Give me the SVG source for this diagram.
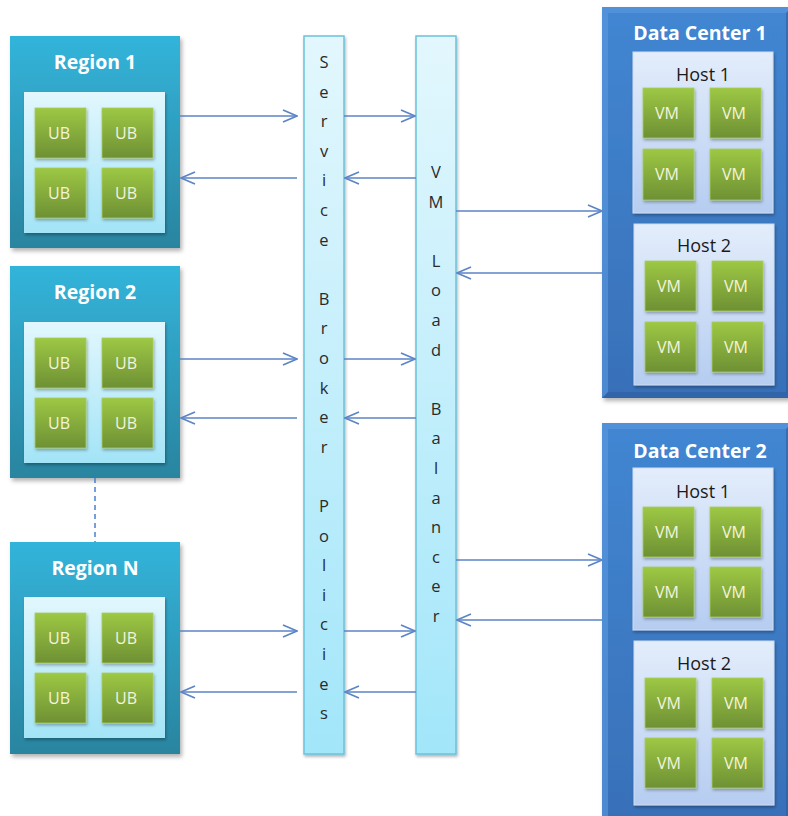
<svg xmlns="http://www.w3.org/2000/svg" width="788" height="816" viewBox="0 0 788 816">
<defs>
  <linearGradient id="gRegion" x1="0" y1="0" x2="0" y2="1">
    <stop offset="0" stop-color="#32b4da"/>
    <stop offset="1" stop-color="#2a849f"/>
  </linearGradient>
  <linearGradient id="gInner" x1="0" y1="0" x2="0" y2="1">
    <stop offset="0" stop-color="#e2f7fd"/>
    <stop offset="1" stop-color="#a3e4f7"/>
  </linearGradient>
  <linearGradient id="gGreen" x1="0" y1="0" x2="0" y2="1">
    <stop offset="0" stop-color="#9dc844"/>
    <stop offset="1" stop-color="#6e9034"/>
  </linearGradient>
  <linearGradient id="gBar" x1="0" y1="0" x2="0" y2="1">
    <stop offset="0" stop-color="#e3f7fd"/>
    <stop offset="1" stop-color="#a2e6fa"/>
  </linearGradient>
  <linearGradient id="gDC" x1="0" y1="0" x2="0" y2="1">
    <stop offset="0" stop-color="#4286d2"/>
    <stop offset="1" stop-color="#3870b8"/>
  </linearGradient>
  <linearGradient id="gHost" x1="0" y1="0" x2="0" y2="1">
    <stop offset="0" stop-color="#e3edfb"/>
    <stop offset="1" stop-color="#b6cdf1"/>
  </linearGradient>
  <filter id="sh" x="-10%" y="-10%" width="130%" height="130%">
    <feDropShadow dx="2" dy="3" stdDeviation="2" flood-color="#000" flood-opacity="0.3"/>
  </filter>
  <filter id="shs" x="-10%" y="-10%" width="130%" height="130%">
    <feDropShadow dx="1" dy="2" stdDeviation="1.5" flood-color="#000" flood-opacity="0.3"/>
  </filter>
  <marker id="ah" viewBox="0 0 16 14" refX="15" refY="7" markerWidth="16" markerHeight="14" orient="auto" markerUnits="userSpaceOnUse">
    <path d="M1,1 L15,7 L1,13" fill="none" stroke="#5b85c6" stroke-width="1.6"/>
  </marker>
  <style>
    .region { fill: url(#gRegion); filter: url(#sh); }
    .inner { fill: url(#gInner); filter: url(#shs); }
    .green { fill: url(#gGreen); stroke: #a8cc60; stroke-width: 0.8; filter: url(#shs); }
    .bar { fill: url(#gBar); stroke: #6ac2db; stroke-width: 1.5; filter: url(#shs); }
    .dc { fill: url(#gDC); filter: url(#sh); }
    .host { fill: url(#gHost); stroke: #cddcf3; stroke-width: 1; filter: url(#shs); }
    .title { font-family: "Open Sans", "Liberation Sans", sans-serif; font-weight: bold; font-size: 19.5px; fill: #ffffff; text-anchor: middle; }
    .hostlbl { font-family: "Open Sans", "Liberation Sans", sans-serif; font-size: 18px; fill: #1a1a1a; text-anchor: middle; }
    .gtxt { font-family: "Open Sans", "Liberation Sans", sans-serif; font-size: 16px; fill: #f4f4dc; text-anchor: middle; }
    .vtxt { font-family: "Open Sans", "Liberation Sans", sans-serif; font-size: 16.5px; fill: #2a2a2a; text-anchor: middle; }
    .conn { stroke: #5b85c6; stroke-width: 1.6; fill: none; }
    .dash { stroke: #4a7fd0; stroke-width: 1.5; stroke-dasharray: 5 4; fill: none; }
  </style>
</defs>
<rect x="0" y="0" width="788" height="816" fill="#ffffff"/>

<!-- Regions -->
<g id="region1">
  <rect class="region" x="10" y="36" width="170" height="212"/>
  <text class="title" x="95" y="69">Region 1</text>
  <rect class="inner" x="24" y="92" width="141" height="141"/>
  <rect class="green" x="35" y="108" width="51" height="50"/><text class="gtxt" x="59" y="139">UB</text>
  <rect class="green" x="102" y="108" width="51" height="50"/><text class="gtxt" x="126" y="139">UB</text>
  <rect class="green" x="35" y="168" width="51" height="50"/><text class="gtxt" x="59" y="199">UB</text>
  <rect class="green" x="102" y="168" width="51" height="50"/><text class="gtxt" x="126" y="199">UB</text>
</g>
<g id="region2">
  <rect class="region" x="10" y="266" width="170" height="212"/>
  <text class="title" x="95" y="299">Region 2</text>
  <rect class="inner" x="24" y="322" width="141" height="141"/>
  <rect class="green" x="35" y="338" width="51" height="50"/><text class="gtxt" x="59" y="369">UB</text>
  <rect class="green" x="102" y="338" width="51" height="50"/><text class="gtxt" x="126" y="369">UB</text>
  <rect class="green" x="35" y="398" width="51" height="50"/><text class="gtxt" x="59" y="429">UB</text>
  <rect class="green" x="102" y="398" width="51" height="50"/><text class="gtxt" x="126" y="429">UB</text>
</g>
<g id="regionN">
  <rect class="region" x="10" y="542" width="170" height="212"/>
  <text class="title" x="95" y="575">Region N</text>
  <rect class="inner" x="24" y="597" width="141" height="141"/>
  <rect class="green" x="35" y="613" width="51" height="50"/><text class="gtxt" x="59" y="644">UB</text>
  <rect class="green" x="102" y="613" width="51" height="50"/><text class="gtxt" x="126" y="644">UB</text>
  <rect class="green" x="35" y="673" width="51" height="50"/><text class="gtxt" x="59" y="704">UB</text>
  <rect class="green" x="102" y="673" width="51" height="50"/><text class="gtxt" x="126" y="704">UB</text>
</g>

<!-- Service Broker Policies bar -->
<g id="service-broker">
  <rect class="bar" x="304" y="36" width="40" height="718"/>
  <text class="vtxt" x="324" y="68">S</text>
  <text class="vtxt" x="324" y="97.6">e</text>
  <text class="vtxt" x="324" y="127.2">r</text>
  <text class="vtxt" x="324" y="156.8">v</text>
  <text class="vtxt" x="324" y="186.4">i</text>
  <text class="vtxt" x="324" y="216">c</text>
  <text class="vtxt" x="324" y="245.6">e</text>
  <text class="vtxt" x="324" y="304.8">B</text>
  <text class="vtxt" x="324" y="334.4">r</text>
  <text class="vtxt" x="324" y="364">o</text>
  <text class="vtxt" x="324" y="393.6">k</text>
  <text class="vtxt" x="324" y="423.2">e</text>
  <text class="vtxt" x="324" y="452.8">r</text>
  <text class="vtxt" x="324" y="512">P</text>
  <text class="vtxt" x="324" y="541.6">o</text>
  <text class="vtxt" x="324" y="571.2">l</text>
  <text class="vtxt" x="324" y="600.8">i</text>
  <text class="vtxt" x="324" y="630.4">c</text>
  <text class="vtxt" x="324" y="660">i</text>
  <text class="vtxt" x="324" y="689.6">e</text>
  <text class="vtxt" x="324" y="719.2">s</text>
</g>

<!-- VM Load Balancer bar -->
<g id="vm-load-balancer">
  <rect class="bar" x="416" y="36" width="40" height="718"/>
  <text class="vtxt" x="436" y="178">V</text>
  <text class="vtxt" x="436" y="207.6">M</text>
  <text class="vtxt" x="436" y="266.8">L</text>
  <text class="vtxt" x="436" y="296.4">o</text>
  <text class="vtxt" x="436" y="326">a</text>
  <text class="vtxt" x="436" y="355.6">d</text>
  <text class="vtxt" x="436" y="414.8">B</text>
  <text class="vtxt" x="436" y="444.4">a</text>
  <text class="vtxt" x="436" y="474">l</text>
  <text class="vtxt" x="436" y="503.6">a</text>
  <text class="vtxt" x="436" y="533.2">n</text>
  <text class="vtxt" x="436" y="562.8">c</text>
  <text class="vtxt" x="436" y="592.4">e</text>
  <text class="vtxt" x="436" y="622">r</text>
</g>

<!-- Data Center 1 -->
<g id="datacenter1">
  <rect class="dc" x="602" y="7" width="190" height="391"/>
  <polygon points="602,7 792,7 786,13 608,13 608,392 602,398" fill="#5b9ae0" opacity="0.6"/>
  <polygon points="602,398 792,398 792,7 786,13 786,392 608,392" fill="#2c5f9f" opacity="0.6"/>
  <text class="title" x="700" y="40">Data Center 1</text>
  <g id="dc1-host1">
    <rect class="host" x="633" y="52" width="140" height="161"/>
    <text class="hostlbl" x="703" y="81">Host 1</text>
    <rect class="green" x="643" y="88" width="51" height="50"/><text class="gtxt" x="667" y="119">VM</text>
    <rect class="green" x="710" y="88" width="51" height="50"/><text class="gtxt" x="734" y="119">VM</text>
    <rect class="green" x="643" y="149" width="51" height="51"/><text class="gtxt" x="667" y="180">VM</text>
    <rect class="green" x="710" y="149" width="51" height="51"/><text class="gtxt" x="734" y="180">VM</text>
  </g>
  <g id="dc1-host2">
    <rect class="host" x="634" y="224" width="140" height="161"/>
    <text class="hostlbl" x="704" y="252">Host 2</text>
    <rect class="green" x="645" y="261" width="51" height="50"/><text class="gtxt" x="669" y="292">VM</text>
    <rect class="green" x="712" y="261" width="51" height="50"/><text class="gtxt" x="736" y="292">VM</text>
    <rect class="green" x="645" y="322" width="51" height="50"/><text class="gtxt" x="669" y="353">VM</text>
    <rect class="green" x="712" y="322" width="51" height="50"/><text class="gtxt" x="736" y="353">VM</text>
  </g>
</g>

<!-- Data Center 2 -->
<g id="datacenter2">
  <rect class="dc" x="602" y="423" width="190" height="400"/>
  <polygon points="602,423 792,423 786,429 608,429 608,816 602,816" fill="#5b9ae0" opacity="0.6"/>
  <polygon points="786,429 792,423 792,816 786,816" fill="#2c5f9f" opacity="0.6"/>
  <text class="title" x="700" y="458">Data Center 2</text>
  <g id="dc2-host1">
    <rect class="host" x="633" y="468" width="140" height="162"/>
    <text class="hostlbl" x="703" y="498">Host 1</text>
    <rect class="green" x="643" y="507" width="51" height="50"/><text class="gtxt" x="667" y="538">VM</text>
    <rect class="green" x="710" y="507" width="51" height="50"/><text class="gtxt" x="734" y="538">VM</text>
    <rect class="green" x="643" y="567" width="51" height="50"/><text class="gtxt" x="667" y="598">VM</text>
    <rect class="green" x="710" y="567" width="51" height="50"/><text class="gtxt" x="734" y="598">VM</text>
  </g>
  <g id="dc2-host2">
    <rect class="host" x="634" y="641" width="140" height="164"/>
    <text class="hostlbl" x="704" y="670">Host 2</text>
    <rect class="green" x="645" y="678" width="51" height="50"/><text class="gtxt" x="669" y="709">VM</text>
    <rect class="green" x="712" y="678" width="51" height="50"/><text class="gtxt" x="736" y="709">VM</text>
    <rect class="green" x="645" y="738" width="51" height="50"/><text class="gtxt" x="669" y="769">VM</text>
    <rect class="green" x="712" y="738" width="51" height="50"/><text class="gtxt" x="736" y="769">VM</text>
  </g>
</g>

<!-- Connectors -->
<g id="connectors">
  <line class="dash" x1="95" y1="478" x2="95" y2="542"/>
  <!-- Region 1 -->
  <line class="conn" x1="180" y1="116" x2="297" y2="116" marker-end="url(#ah)"/>
  <line class="conn" x1="297" y1="178" x2="181" y2="178" marker-end="url(#ah)"/>
  <line class="conn" x1="344" y1="116" x2="415" y2="116" marker-end="url(#ah)"/>
  <line class="conn" x1="416" y1="178" x2="345" y2="178" marker-end="url(#ah)"/>
  <!-- Region 2 -->
  <line class="conn" x1="180" y1="359" x2="297" y2="359" marker-end="url(#ah)"/>
  <line class="conn" x1="297" y1="418" x2="181" y2="418" marker-end="url(#ah)"/>
  <line class="conn" x1="344" y1="359" x2="415" y2="359" marker-end="url(#ah)"/>
  <line class="conn" x1="416" y1="418" x2="345" y2="418" marker-end="url(#ah)"/>
  <!-- Region N -->
  <line class="conn" x1="180" y1="631" x2="297" y2="631" marker-end="url(#ah)"/>
  <line class="conn" x1="297" y1="692" x2="181" y2="692" marker-end="url(#ah)"/>
  <line class="conn" x1="344" y1="631" x2="415" y2="631" marker-end="url(#ah)"/>
  <line class="conn" x1="416" y1="692" x2="345" y2="692" marker-end="url(#ah)"/>
  <!-- Data centers -->
  <line class="conn" x1="456" y1="211" x2="602" y2="211" marker-end="url(#ah)"/>
  <line class="conn" x1="602" y1="273" x2="457" y2="273" marker-end="url(#ah)"/>
  <line class="conn" x1="456" y1="560" x2="602" y2="560" marker-end="url(#ah)"/>
  <line class="conn" x1="602" y1="620" x2="457" y2="620" marker-end="url(#ah)"/>
</g>
</svg>
